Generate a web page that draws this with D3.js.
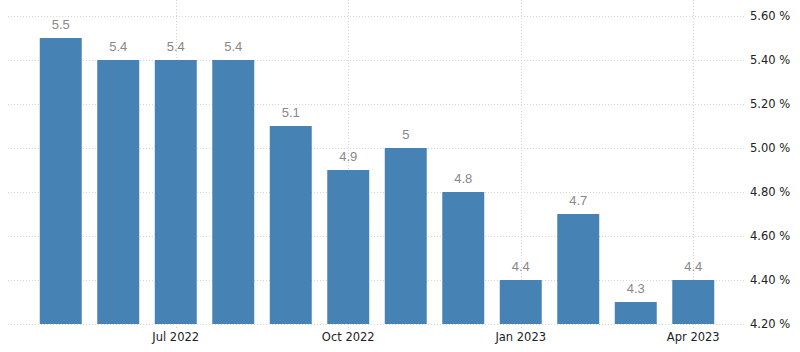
<!DOCTYPE html>
<html>
<head>
<meta charset="utf-8">
<script src="https://cdn.jsdelivr.net/npm/d3@7"></script>
<style>
  body { margin: 0; background: #fff; }
  .grid line { stroke: #d6d6d6; stroke-dasharray: 1 2; }
  .axis text { font-family: "DejaVu Sans", sans-serif; font-size: 11.5px; fill: #222; }
  .val { font-family: "Liberation Sans", Arial, sans-serif; font-size: 13px; fill: #888; text-anchor: middle; }
</style>
</head>
<body>
<div id="chart"></div>
<script>
// monthly rate, May 2022 - Apr 2023
const months = ["2022-05","2022-06","2022-07","2022-08","2022-09","2022-10",
                "2022-11","2022-12","2023-01","2023-02","2023-03","2023-04"];
const values = [5.5, 5.4, 5.4, 5.4, 5.1, 4.9, 5, 4.8, 4.4, 4.7, 4.3, 4.4];
const xTicks = ["2022-07","2022-10","2023-01","2023-04"];
const xTickLabels = ["Jul 2022","Oct 2022","Jan 2023","Apr 2023"];
const yTicks = [4.2, 4.4, 4.6, 4.8, 5.0, 5.2, 5.4, 5.6];

const W = 800, H = 352;
const svg = d3.select("#chart").append("svg").attr("width", W).attr("height", H);

const x = d3.scaleBand().domain(months).range([32, 722]).paddingInner(0.27).paddingOuter(0.135);
const y = d3.scaleLinear().domain([4.2, 5.6]).range([324, 16]);

// horizontal grid
svg.append("g").attr("class", "grid")
  .selectAll("line").data(yTicks).join("line")
    .attr("x1", 8).attr("x2", 745)
    .attr("y1", d => y(d) + 0.5).attr("y2", d => y(d) + 0.5);

// vertical grid at labelled months
svg.append("g").attr("class", "grid")
  .selectAll("line").data(xTicks).join("line")
    .attr("x1", d => Math.round(x(d) + x.bandwidth() / 2) + 0.5)
    .attr("x2", d => Math.round(x(d) + x.bandwidth() / 2) + 0.5)
    .attr("y1", 0).attr("y2", 330);

// bars
svg.append("g").selectAll("rect").data(months).join("rect")
    .attr("x", d => x(d))
    .attr("width", x.bandwidth())
    .attr("y", (d, i) => y(values[i]))
    .attr("height", (d, i) => y(4.2) - y(values[i]))
    .attr("fill", "#4682b4");

// value labels
svg.append("g").selectAll("text").data(months).join("text")
    .attr("class", "val")
    .attr("x", d => x(d) + x.bandwidth() / 2)
    .attr("y", (d, i) => y(values[i]) - 9)
    .text((d, i) => values[i]);

// y axis on the right
const yAxis = svg.append("g").attr("class", "axis")
  .attr("transform", "translate(748,0)")
  .call(d3.axisRight(y).tickValues(yTicks).tickFormat(d => d3.format(".2f")(d) + " %").tickSize(0).tickPadding(2));
yAxis.select(".domain").remove();

// x axis
const xAxis = svg.append("g").attr("class", "axis")
  .attr("transform", "translate(0,324)")
  .call(d3.axisBottom(x).tickValues(xTicks)
    .tickFormat(d => xTickLabels[xTicks.indexOf(d)]).tickSize(0).tickPadding(9));
xAxis.select(".domain").remove();
</script>
</body>
</html>
